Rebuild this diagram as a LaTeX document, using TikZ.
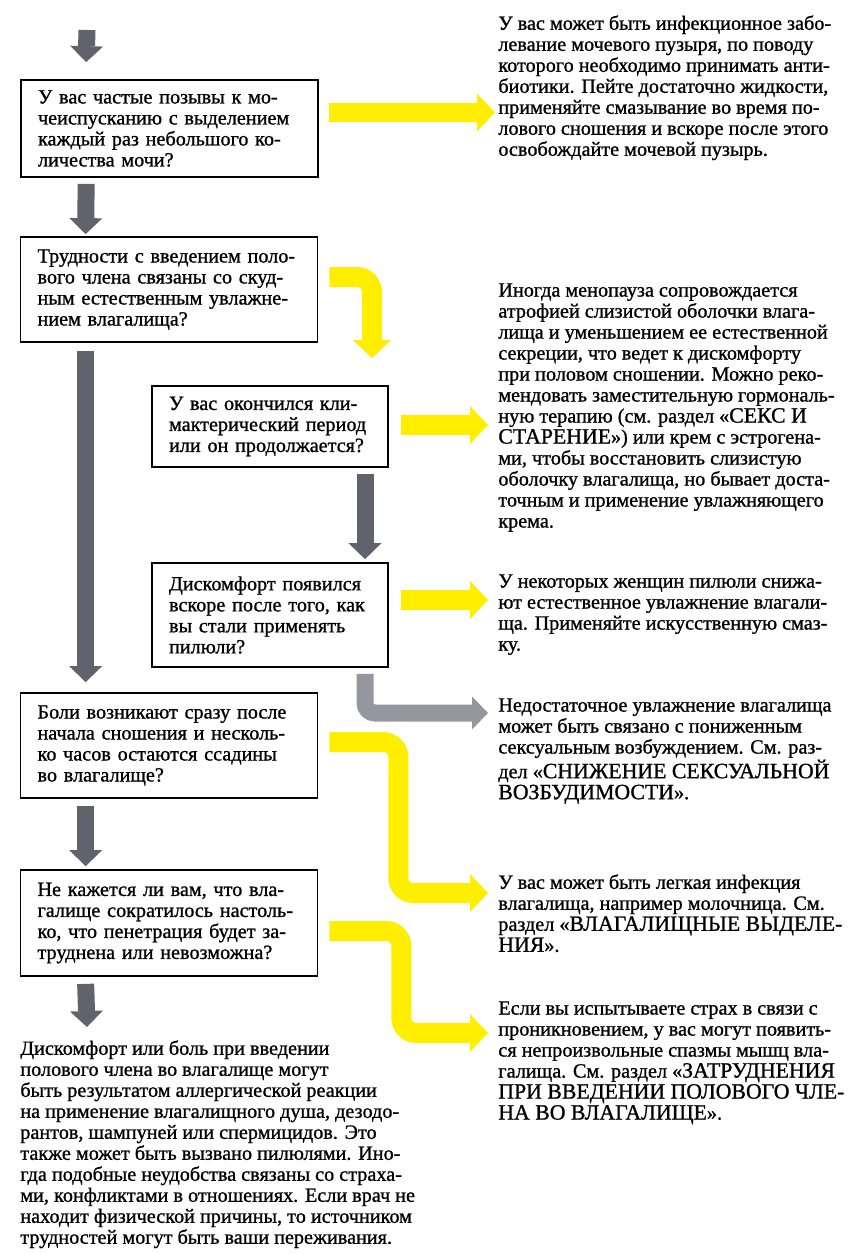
\documentclass[tikz,border=0pt]{standalone}
\usepackage{fontspec}
\setmainfont{Liberation Serif}[FakeBold=1]
\usetikzlibrary{arrows.meta, calc}
\definecolor{hintYellow}{RGB}{255,238,0}
\definecolor{stepGray}{RGB}{98,98,108}
\definecolor{sideGray}{RGB}{150,150,158}
\newcommand\secname[1]{{\fontsize{12.4}{11.95}\selectfont #1}}

\begin{document}
\begin{tikzpicture}[
  x=0.02cm, y=-0.02cm,
  font=\fontsize{11.5}{11.95}\selectfont,
  qbox/.style={draw, line width=1pt, align=left, text width=5.26cm, inner xsep=0.34cm, inner ysep=0pt},
  qsmall/.style={qbox, text width=4.04cm},
  note/.style={anchor=north west, align=left, inner sep=0pt},
  garrow/.style={draw=stepGray, line width=0.34cm, -{Triangle[length=0.32cm, width=0.66cm, line width=0pt]}},
  sidearrow/.style={garrow, draw=sideGray, rounded corners=0.2cm},
  yarrow/.style={draw=hintYellow, line width=0.4cm, rounded corners=0.3cm, -{Triangle[length=0.36cm, width=0.76cm, line width=0pt]}}
]
\useasboundingbox (0,0) rectangle (853,1254);

% questions, left column
\node[qbox, minimum height=1.94cm] (q1) at (169.5,128.5) {У вас частые позывы к мо-\\чеиспусканию с выделением\\каждый раз небольшого ко-\\личества мочи?};
\node[qbox, minimum height=2.1cm] (q2) at (169,289.5) {Трудности с введением поло-\\вого члена связаны со скуд-\\ным естественным увлажне-\\нием влагалища?};
\node[qsmall, minimum height=1.62cm] (q3) at (270,426.5) {У вас окончился кли-\\мактерический период\\или он продолжается?};
\node[qsmall, minimum height=2.08cm] (q4) at (270,615) {Дискомфорт появился\\вскоре после того, как\\вы стали применять\\пилюли?};
\node[qbox, minimum height=2.1cm] (q5) at (169,745.5) {Боли возникают сразу после\\начала сношения и несколь-\\ко часов остаются ссадины\\во влагалище?};
\node[qbox, minimum height=2.12cm] (q6) at (169,923) {Не кажется ли вам, что вла-\\галище сократилось настоль-\\ко, что пенетрация будет за-\\труднена или невозможна?};

% answers, right column
\node[note] (rcyst) at (498,15) {У вас может быть инфекционное забо-\\левание мочевого пузыря, по поводу\\которого необходимо принимать анти-\\биотики. Пейте достаточно жидкости,\\применяйте смазывание во время по-\\лового сношения и вскоре после этого\\освобождайте мочевой пузырь.};
\node[note] (rmeno) at (498,283) {Иногда менопауза сопровождается\\атрофией слизистой оболочки влага-\\лища и уменьшением ее естественной\\секреции, что ведет к дискомфорту\\при половом сношении. Можно реко-\\мендовать заместительную гормональ-\\ную терапию (см. раздел «\secname{СЕКС И}\\\secname{СТАРЕНИЕ}») или крем с эстрогена-\\ми, чтобы восстановить слизистую\\оболочку влагалища, но бывает доста-\\точным и применение увлажняющего\\крема.};
\node[note] (rpill) at (498,574) {У некоторых женщин пилюли снижа-\\ют естественное увлажнение влагали-\\ща. Применяйте искусственную смаз-\\ку.};
\node[note] (rlow) at (498,698) {Недостаточное увлажнение влагалища\\может быть связано с пониженным\\сексуальным возбуждением. См. раз-\\дел «\secname{СНИЖЕНИЕ СЕКСУАЛЬНОЙ}\\\secname{ВОЗБУДИМОСТИ}».};
\node[note] (rinf) at (498,874) {У вас может быть легкая инфекция\\влагалища, например молочница. См.\\раздел «\secname{ВЛАГАЛИЩНЫЕ ВЫДЕЛЕ-}\\\secname{НИЯ}».};
\node[note] (rfear) at (498,1001) {Если вы испытываете страх в связи с\\проникновением, у вас могут появить-\\ся непроизвольные спазмы мышц вла-\\галища. См. раздел «\secname{ЗАТРУДНЕНИЯ}\\\secname{ПРИ ВВЕДЕНИИ ПОЛОВОГО ЧЛЕ-}\\\secname{НА ВО ВЛАГАЛИЩЕ}».};

% final advice
\node[note] (advice) at (20,1040) {Дискомфорт или боль при введении\\полового члена во влагалище могут\\быть результатом аллергической реакции\\на применение влагалищного душа, дезодо-\\рантов, шампуней или спермицидов. Это\\также может быть вызвано пилюлями. Ино-\\гда подобные неудобства связаны со страха-\\ми, конфликтами в отношениях. Если врач не\\находит физической причины, то источником\\трудностей могут быть ваши переживания.};

% gray arrows: next question
\coordinate (entry) at (87,30);
\draw[garrow] (entry) -- ($(q1.north west)+(66,-17)$);
\draw[garrow] ($(q1.south west)+(66,6)$) -- ($(q2.north west)+(66,-2)$);
\draw[garrow] ($(q2.south west)+(66,8)$) -- ($(q5.north west)+(66,-10)$);
\draw[garrow] ($(q3.south)+(95,6)$) -- ($(q4.north)+(95,-3)$);
\draw[sidearrow] ($(q4.south)+(95,6)$) |- ($(rlow.north west)+(-10,15)$);
\draw[garrow] ($(q5.south west)+(66,7)$) -- ($(q6.north west)+(66,-3)$);
\draw[garrow] ($(q6.south west)+(66,7)$) -- ($(advice.north west)+(67,-13)$);

% yellow arrows: answer yes
\draw[yarrow] ($(q1.east)+(10,-16)$) -- ($(q1.east -| rcyst.west)+(-3,-16)$);
\draw[yarrow] ($(q2.east)+(11,-12.5)$) -| ($(q3.north)+(102,-27)$);
\draw[yarrow] ($(q3.east)+(12,-1.5)$) -- ($(q3.east -| rmeno.west)+(-10,-1.5)$);
\draw[yarrow] ($(q4.east)+(12,-15)$) -- ($(q4.east -| rpill.west)+(-10,-15)$);
\draw[yarrow] ($(q5.east)+(11,-3.5)$) -- ++(69,0) |- ($(rinf.north west)+(-10,19)$);
\draw[yarrow] ($(q6.east)+(11,8)$) -- ++(72,0) |- ($(rfear.north west)+(-10,32)$);

\end{tikzpicture}
\end{document}
